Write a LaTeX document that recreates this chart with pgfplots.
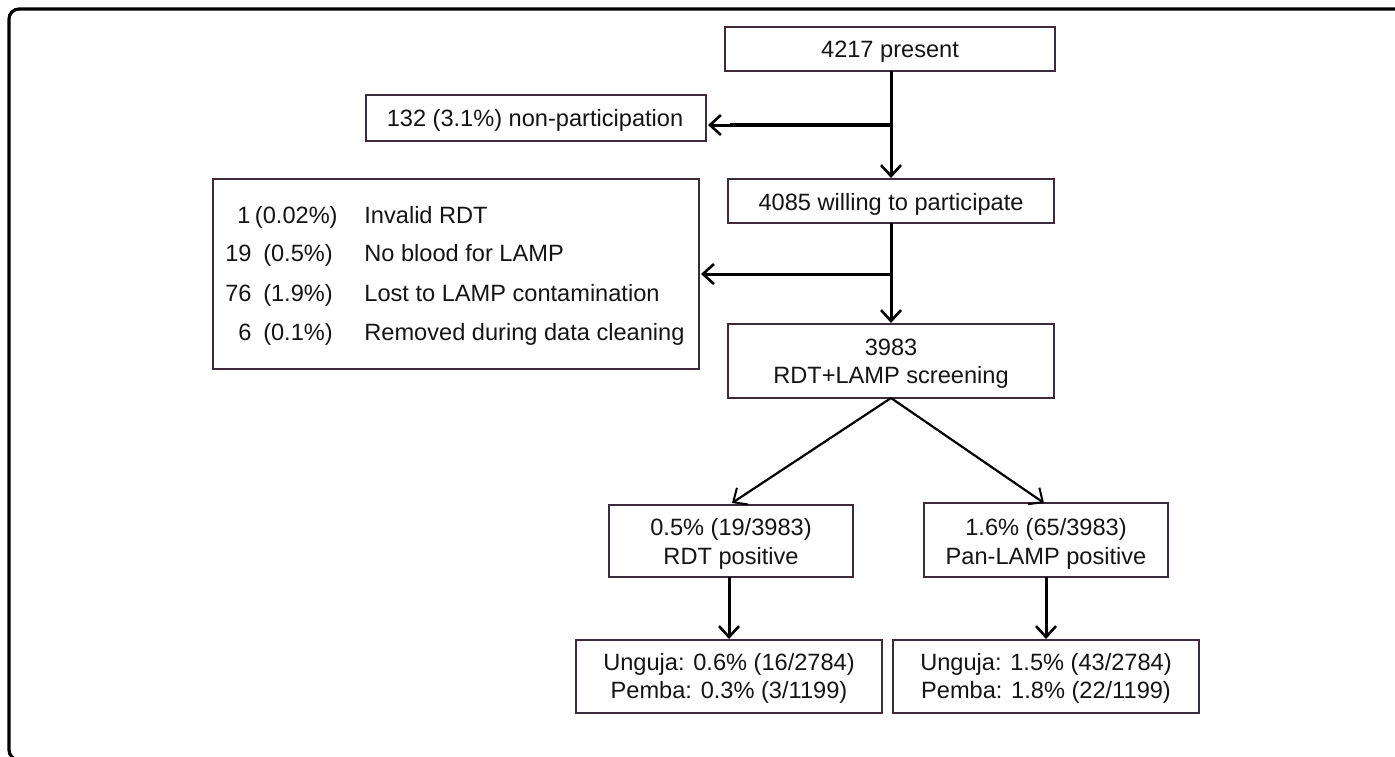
\documentclass[border=0pt]{standalone}
\usepackage{pgfplots}
\pgfplotsset{compat=1.18}
\usepackage{fontspec}
\setmainfont{Liberation Sans}
\usetikzlibrary{arrows.meta}
\definecolor{boxc}{HTML}{3D2B3A}
\definecolor{txt}{HTML}{141414}
\begin{document}
\begin{tikzpicture}
\begin{axis}[
  width=697.5pt, height=378pt, scale only axis,
  xmin=0, xmax=1395, ymin=0, ymax=756, y dir=reverse,
  axis lines=none, clip=true,
]
% outer frame (partly cut off)
\draw[black, line width=1.6pt, rounded corners=5pt]
  (axis cs:1420,9) -- (axis cs:9,9) -- (axis cs:9,760) -- (axis cs:60,760);

% boxes
\tikzset{bx/.style={boxc, line width=0.9pt}}
\draw[bx] (axis cs:725,27) rectangle (axis cs:1055,71);
\draw[bx] (axis cs:366,95) rectangle (axis cs:706,141);
\draw[bx] (axis cs:213,179) rectangle (axis cs:699,369);
\draw[bx] (axis cs:728,179) rectangle (axis cs:1054,223);
\draw[bx] (axis cs:728,324) rectangle (axis cs:1054,398);
\draw[bx] (axis cs:609,505) rectangle (axis cs:853,577);
\draw[bx] (axis cs:924,503) rectangle (axis cs:1168,577);
\draw[bx] (axis cs:576,640) rectangle (axis cs:882,713);
\draw[bx] (axis cs:893,640) rectangle (axis cs:1199,713);

% arrows
\tikzset{ar/.style={black, mark=none, line width=1.5pt, -{Straight Barb[length=5.5pt,width=10pt,line width=1.3pt]}}}
\addplot[ar] coordinates {(891,71) (891,178)};
\addplot[black, mark=none, line width=1.6pt] coordinates {(891,125) (730,125)};
\addplot[ar] coordinates {(891,125) (708,125)};
\addplot[ar] coordinates {(891,223) (891,323)};
\addplot[ar] coordinates {(891,274) (701,274)};
\addplot[black, mark=none, line width=1.1pt, -{Straight Barb[length=5.5pt,width=10pt,line width=1pt]}] coordinates {(891,398) (732,503)};
\addplot[black, mark=none, line width=1.1pt, -{Straight Barb[length=5.5pt,width=10pt,line width=1pt]}] coordinates {(891,398) (1044,503)};
\addplot[ar] coordinates {(729,577) (729,639)};
\addplot[ar] coordinates {(1046,577) (1046,639)};

% texts
\tikzset{t/.style={anchor=base, inner sep=0pt, text=txt, font=\fontsize{11.8}{14}\selectfont}}
\node[t] at (axis cs:890,57) {4217 present};
\node[t] at (axis cs:535,126) {132 (3.1\%) non-participation};
\node[t, anchor=base east] at (axis cs:251,223) {1};
\node[t, anchor=base east] at (axis cs:252,261) {19};
\node[t, anchor=base east] at (axis cs:252,301) {76};
\node[t, anchor=base east] at (axis cs:252,340) {6};
\node[t, anchor=base east] at (axis cs:338,223) {(0.02\%)};
\node[t] at (axis cs:298,261) {(0.5\%)};
\node[t] at (axis cs:298,301) {(1.9\%)};
\node[t] at (axis cs:298,340) {(0.1\%)};
\node[t, anchor=base west] at (axis cs:364,223) {Invalid RDT};
\node[t, anchor=base west] at (axis cs:364,261) {No blood for LAMP};
\node[t, anchor=base west] at (axis cs:364,301) {Lost to LAMP contamination};
\node[t, anchor=base west] at (axis cs:364,340) {Removed during data cleaning};
\node[t] at (axis cs:891,210) {4085 willing to participate};
\node[t] at (axis cs:891,355) {3983};
\node[t] at (axis cs:891,383) {RDT+LAMP screening};
\node[t] at (axis cs:731,535) {0.5\% (19/3983)};
\node[t] at (axis cs:731,564) {RDT positive};
\node[t] at (axis cs:1046,535) {1.6\% (65/3983)};
\node[t] at (axis cs:1046,564) {Pan-LAMP positive};
\node[t] at (axis cs:729,670) {Unguja: 0.6\% (16/2784)};
\node[t] at (axis cs:729,698) {Pemba: 0.3\% (3/1199)};
\node[t] at (axis cs:1046,670) {Unguja: 1.5\% (43/2784)};
\node[t] at (axis cs:1046,698) {Pemba: 1.8\% (22/1199)};
\end{axis}
\pgfresetboundingbox
\path[use as bounding box] (0,0) rectangle (697.5pt,378pt);
\end{tikzpicture}
\end{document}
